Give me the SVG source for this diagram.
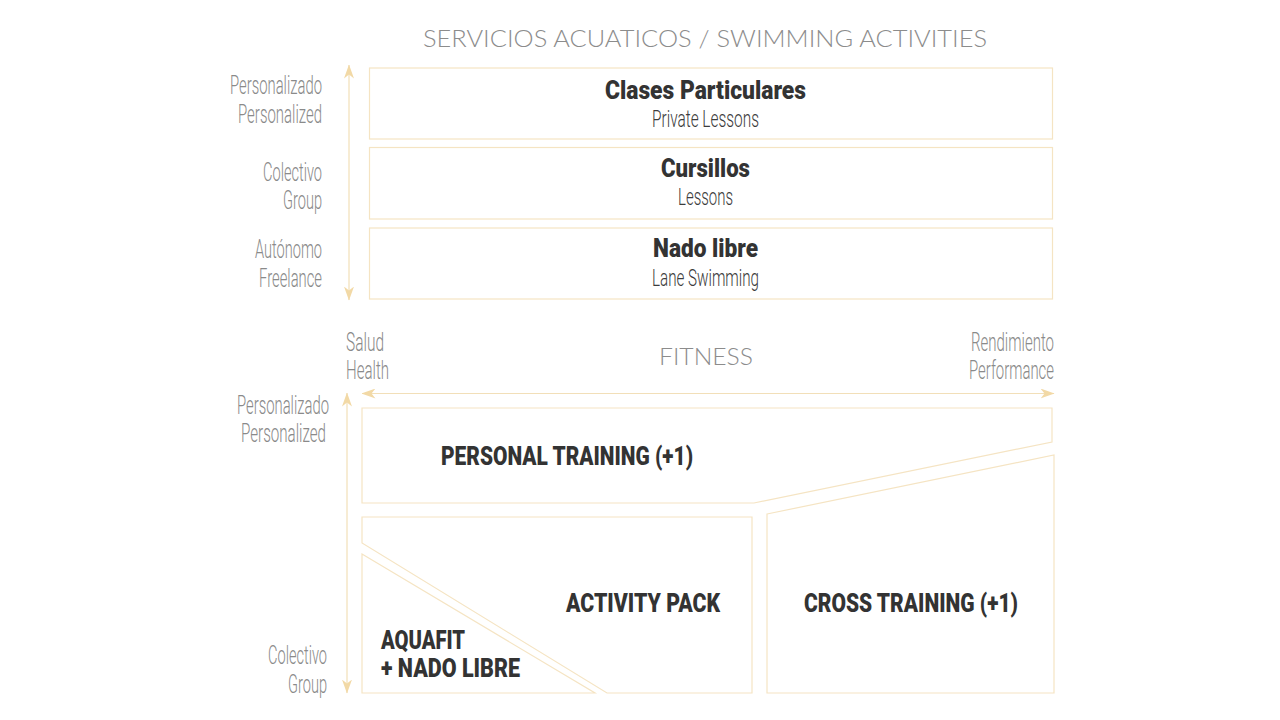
<svg xmlns="http://www.w3.org/2000/svg" width="1280" height="720" viewBox="0 0 1280 720">
<style>
.box{fill:#ffffff;stroke:#f5e4c3;stroke-width:1.2}
.axis{fill:none;stroke:#f2dfb8;stroke-width:1.2}
.title{font-family:Lato,"Open Sans","Liberation Sans",sans-serif;font-weight:300;font-size:24px;fill:#8c8c8c}
.lab{font-family:Roboto,"Liberation Sans",sans-serif;font-weight:300;font-size:25px;fill:#8a8a8a}
.sub{font-family:Roboto,"Liberation Sans",sans-serif;font-weight:300;font-size:24px;fill:#3c3c3c}
.head{font-family:Roboto,"Liberation Sans",sans-serif;font-weight:900;font-size:25px;fill:#333333}
</style>
<defs>
<marker id="ah" viewBox="0 0 14 10" refX="13.5" refY="5" markerWidth="14" markerHeight="10" markerUnits="userSpaceOnUse" orient="auto-start-reverse">
<path d="M0,0 L14,5 L0,10 L4,5 Z" fill="#f2d9a6"/>
</marker>
</defs>

<text class="title" x="423" y="47" textLength="564" lengthAdjust="spacingAndGlyphs">SERVICIOS ACUATICOS / SWIMMING ACTIVITIES</text>
<text class="title" x="659" y="365" textLength="94" lengthAdjust="spacingAndGlyphs">FITNESS</text>

<g id="connectors">
<line class="axis" x1="349" y1="65" x2="349" y2="300" marker-start="url(#ah)" marker-end="url(#ah)"/>
<line class="axis" x1="347" y1="393" x2="347" y2="693" marker-start="url(#ah)" marker-end="url(#ah)"/>
<line class="axis" x1="362" y1="393.5" x2="1054" y2="393.5" marker-start="url(#ah)" marker-end="url(#ah)"/>
</g>

<g id="axis-labels">
<text class="lab" x="230" y="94" textLength="92" lengthAdjust="spacingAndGlyphs">Personalizado</text>
<text class="lab" x="238" y="123" textLength="84" lengthAdjust="spacingAndGlyphs">Personalized</text>
<text class="lab" x="263" y="181" textLength="59" lengthAdjust="spacingAndGlyphs">Colectivo</text>
<text class="lab" x="283" y="209" textLength="39" lengthAdjust="spacingAndGlyphs">Group</text>
<text class="lab" x="255" y="258" textLength="67" lengthAdjust="spacingAndGlyphs">Autónomo</text>
<text class="lab" x="259" y="287" textLength="63" lengthAdjust="spacingAndGlyphs">Freelance</text>
<text class="lab" x="237" y="414" textLength="92" lengthAdjust="spacingAndGlyphs">Personalizado</text>
<text class="lab" x="241" y="442" textLength="85" lengthAdjust="spacingAndGlyphs">Personalized</text>
<text class="lab" x="268" y="664" textLength="59" lengthAdjust="spacingAndGlyphs">Colectivo</text>
<text class="lab" x="288" y="693" textLength="39" lengthAdjust="spacingAndGlyphs">Group</text>
<text class="lab" x="346" y="351" textLength="38" lengthAdjust="spacingAndGlyphs">Salud</text>
<text class="lab" x="346" y="379" textLength="43" lengthAdjust="spacingAndGlyphs">Health</text>
<text class="lab" x="971" y="351" textLength="83" lengthAdjust="spacingAndGlyphs">Rendimiento</text>
<text class="lab" x="969" y="379" textLength="85" lengthAdjust="spacingAndGlyphs">Performance</text>
</g>

<g id="clases-particulares">
<rect class="box" x="369.5" y="68" width="683" height="71"/>
<text class="head" x="605" y="99" textLength="201" lengthAdjust="spacingAndGlyphs">Clases Particulares</text>
<text class="sub" x="652" y="127" textLength="107" lengthAdjust="spacingAndGlyphs">Private Lessons</text>
</g>
<g id="cursillos">
<rect class="box" x="369.5" y="147.5" width="683" height="71.5"/>
<text class="head" x="661" y="177" textLength="89" lengthAdjust="spacingAndGlyphs">Cursillos</text>
<text class="sub" x="678" y="205" textLength="55" lengthAdjust="spacingAndGlyphs">Lessons</text>
</g>
<g id="nado-libre">
<rect class="box" x="369.5" y="228" width="683" height="71"/>
<text class="head" x="653" y="257" textLength="105" lengthAdjust="spacingAndGlyphs">Nado libre</text>
<text class="sub" x="652" y="286" textLength="107" lengthAdjust="spacingAndGlyphs">Lane Swimming</text>
</g>

<g id="personal-training">
<polygon class="box" points="362,408 1052,408 1052,442 754,503 362,503"/>
<text class="head" x="441" y="465" textLength="252" lengthAdjust="spacingAndGlyphs">PERSONAL TRAINING (+1)</text>
</g>
<g id="cross-training">
<polygon class="box" points="767,514 1054,455 1054,693 767,693"/>
<text class="head" x="804" y="612" textLength="214" lengthAdjust="spacingAndGlyphs">CROSS TRAINING (+1)</text>
</g>
<g id="activity-pack">
<polygon class="box" points="362,517 752,517 752,693 607,693 362,543"/>
<text class="head" x="566" y="612" textLength="154" lengthAdjust="spacingAndGlyphs">ACTIVITY PACK</text>
</g>
<g id="aquafit">
<polygon class="box" points="362,554 595,693 362,693"/>
<text class="head" x="381" y="649" textLength="84" lengthAdjust="spacingAndGlyphs">AQUAFIT</text>
<text class="head" x="381" y="677" textLength="139" lengthAdjust="spacingAndGlyphs">+ NADO LIBRE</text>
</g>
</svg>
